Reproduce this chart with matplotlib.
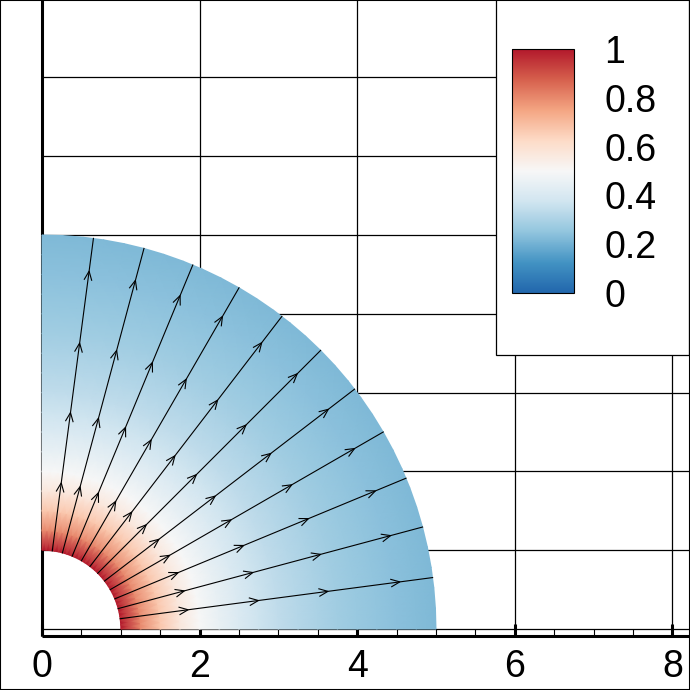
import numpy as np
import matplotlib
matplotlib.use("Agg")
from matplotlib import pyplot as plt
from matplotlib.colors import LinearSegmentedColormap
from matplotlib.patches import Rectangle

plt.rcParams['font.family'] = ['Liberation Sans', 'DejaVu Sans']

# radial profile of the flooded variable
r_samples = [1.0, 1.25, 1.5, 1.75, 2.0, 2.25, 2.5, 2.75, 3.0, 3.25, 3.5,
             3.75, 4.0, 4.25, 4.5, 4.75, 5.0]
r_values = [1.0, 0.8, 0.67, 0.57, 0.5, 0.45, 0.41, 0.37, 0.34, 0.32, 0.3,
            0.28, 0.265, 0.25, 0.24, 0.23, 0.22]

# streamlines (angle in degrees) and arrowhead radii along each one
stream_angles = [7.5, 15, 22.5, 30, 37.5, 45, 52.5, 60, 67.5, 75, 82.5]
arrow_r = [1.87, 2.77, 3.66, 4.58]
r_in, r_out = 1.0, 5.0

xticks = [0, 2, 4, 6, 8]
xticklabels = ["0", "2", "4", "6", "8"]
yticks = [0, 1, 2, 3, 4, 5, 6, 7]
cbar_ticks = [0, 0.2, 0.4, 0.6, 0.8, 1]
cbar_labels = ["0", "0.2", "0.4", "0.6", "0.8", "1"]

rdbu = ["#2166ac", "#4393c3", "#92c5de", "#d1e5f0", "#f7f7f7",
        "#fddbc7", "#f4a582", "#d6604d", "#b2182b"]
cmap = LinearSegmentedColormap.from_list("rdbu9", rdbu, N=512)

px = 78.8  # pixels per data unit
xmin = -42 / px
xmax = xmin + 690 / px
ymax = 629 / px
ymin = ymax - 690 / px
y_axis = -0.095

fig = plt.figure(figsize=(6.9, 6.9), dpi=100)
ax = fig.add_axes([0, 0, 1, 1])
ax.set_xlim(xmin, xmax)
ax.set_ylim(ymin, ymax)
ax.axis("off")

# grid
ax.hlines(yticks, 0, xmax, color="black", lw=0.9, zorder=1)
ax.vlines(xticks[1:], 0, ymax, color="black", lw=0.9, zorder=1)

# axis lines and ticks
ax.plot([0, 0], [y_axis, ymax], color="black", lw=2.2, zorder=1, solid_capstyle="butt")
ax.plot([0, xmax], [y_axis, y_axis], color="black", lw=2.2, zorder=1, solid_capstyle="butt")
ax.vlines(xticks, y_axis, 0.063, color="black", lw=2.2, zorder=1)
minor = [m for m in np.arange(0.5, 8.5, 0.5) if m not in xticks]
ax.vlines(minor, y_axis, 0, color="black", lw=0.8, zorder=1)
for xt, lab in zip(xticks, xticklabels):
    ax.text(xt, -0.609, lab, fontsize=27, ha="center", va="baseline")

# flooded quarter annulus
theta = np.radians(np.linspace(0, 90, 31))
R, T = np.meshgrid(r_samples, theta, indexing="ij")
C = np.repeat(np.array(r_values)[:, None], len(theta), axis=1)
mesh = ax.pcolormesh(R * np.cos(T), R * np.sin(T), C, cmap=cmap, vmin=0, vmax=1,
                     shading="gouraud", zorder=2)

# streamlines with open arrowheads
L, w = 0.11, 0.047
for a in stream_angles:
    t = np.radians(a)
    c, s = np.cos(t), np.sin(t)
    ax.plot([r_in * c, r_out * c], [r_in * s, r_out * s], color="black", lw=0.8, zorder=3)
    for ra in arrow_r:
        tip = np.array([ra * c, ra * s])
        back = tip - L * np.array([c, s])
        perp = w * np.array([-s, c])
        pts = np.array([back + perp, tip, back - perp])
        ax.plot(pts[:, 0], pts[:, 1], color="black", lw=0.8, zorder=3)

# legend box
ax.add_patch(Rectangle((496 / 690, 1 - 355 / 690), 193 / 690, 355 / 690 + 0.01,
                       transform=ax.transAxes, facecolor="white", edgecolor="black",
                       lw=0.9, zorder=10, clip_on=False))
# figure frame
ax.add_patch(Rectangle((0, 0), 1, 1, transform=ax.transAxes, fill=False,
                       edgecolor="black", lw=1.5, zorder=11, clip_on=False))

cax = fig.add_axes([512 / 690, 1 - 293 / 690, 62 / 690, 244 / 690])
cb = fig.colorbar(mesh, cax=cax, ticks=cbar_ticks)
cb.set_ticklabels(cbar_labels)
cb.outline.set_linewidth(0.8)
cax.tick_params(length=0, pad=22, labelsize=27)

fig.savefig("out.png", dpi=100)
